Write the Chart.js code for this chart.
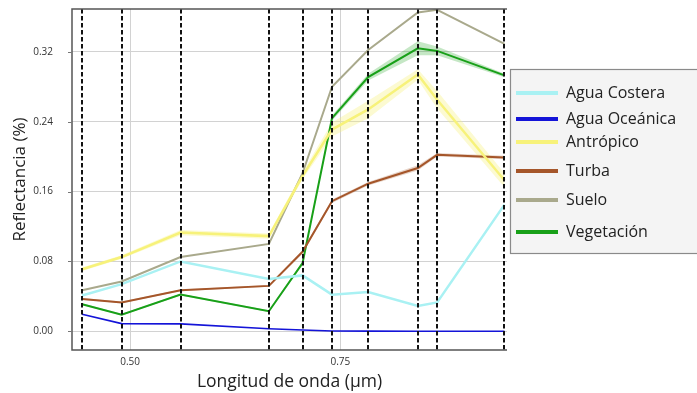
<!DOCTYPE html>
<html>
<head>
<meta charset="utf-8">
<script src="https://cdn.jsdelivr.net/npm/chart.js@4.4.0/dist/chart.umd.min.js"></script>
<style>
  html, body { margin: 0; padding: 0; background: #fff; }
</style>
</head>
<body>
<canvas id="grafico" width="697" height="393"></canvas>
<script>
// bandas Sentinel-2 (µm)
var bandas = [0.443, 0.49, 0.56, 0.665, 0.705, 0.74, 0.783, 0.842, 0.865, 0.945];
var ticksX = [0.50, 0.75];
var ticksY = [0.00, 0.08, 0.16, 0.24, 0.32];

var nombres = ['Agua Costera', 'Agua Oceánica', 'Antrópico', 'Turba', 'Suelo', 'Vegetación'];

var aguaCostera  = [0.041, 0.054, 0.080, 0.060, 0.064, 0.042, 0.045, 0.029, 0.033, 0.145];
var aguaOceanica = [0.0195, 0.0088, 0.0085, 0.003, 0.0015, 0.0003, 0.0002, 0.0001, 0.0001, 0.0001];
var antropico    = [0.071, 0.085, 0.113, 0.109, 0.178, 0.231, 0.254, 0.294, 0.265, 0.173];
var turba        = [0.037, 0.033, 0.047, 0.052, 0.091, 0.149, 0.169, 0.187, 0.202, 0.199];
var suelo        = [0.047, 0.057, 0.085, 0.100, 0.181, 0.280, 0.322, 0.365, 0.368, 0.329];
var vegetacion   = [0.031, 0.019, 0.042, 0.023, 0.078, 0.244, 0.291, 0.324, 0.321, 0.293];

// dispersión (sombreado)
var antropicoDesv  = [0.002, 0.002, 0.003, 0.003, 0.004, 0.008, 0.010, 0.006, 0.010, 0.008];
var turbaDesv      = [0.001, 0.001, 0.001, 0.001, 0.002, 0.002, 0.002, 0.003, 0.002, 0.002];
var vegetacionDesv = [0.001, 0.001, 0.001, 0.001, 0.002, 0.003, 0.004, 0.008, 0.005, 0.002];

var colores = ['#a9f1f3', '#1414d8', '#f7f27a', '#a5562a', '#a9a98c', '#18a018'];
var grosor  = [2.5, 1.6, 2.5, 2, 2, 2];

function puntos(valores) {
    return bandas.map(function (b, i) { return { x: b, y: valores[i] }; });
}

function banda(valores, desv, signo) {
    return bandas.map(function (b, i) { return { x: b, y: valores[i] + signo * desv[i] }; });
}

var series = [aguaCostera, aguaOceanica, antropico, turba, suelo, vegetacion];
var datasets = [];

series.forEach(function (s, i) {
    datasets.push({
        label: nombres[i],
        data: puntos(s),
        borderColor: colores[i],
        backgroundColor: colores[i],
        borderWidth: grosor[i],
        pointRadius: 0,
        tension: 0,
        fill: false,
        order: 1
    });
});

function agregarBanda(valores, desv, color) {
    datasets.push({ label: '_banda', data: banda(valores, desv, -1), borderWidth: 0, pointRadius: 0, fill: false, order: 5 });
    datasets.push({ label: '_banda', data: banda(valores, desv, 1), borderWidth: 0, pointRadius: 0, fill: '-1', backgroundColor: color, order: 5 });
}
agregarBanda(antropico, antropicoDesv, 'rgba(247, 242, 122, 0.35)');
agregarBanda(turba, turbaDesv, 'rgba(165, 86, 42, 0.25)');
agregarBanda(vegetacion, vegetacionDesv, 'rgba(24, 160, 24, 0.25)');

var lineasBandas = {
    id: 'lineasBandas',
    afterDatasetsDraw: function (chart) {
        var ctx = chart.ctx, sx = chart.scales.x, sy = chart.scales.y, a = chart.chartArea;
        ctx.save();
        ctx.strokeStyle = '#111';
        ctx.lineWidth = 2;
        ctx.setLineDash([4.5, 2.5]);
        bandas.forEach(function (b) {
            var px = Math.round(sx.getPixelForValue(b));
            ctx.beginPath();
            ctx.moveTo(px, a.top);
            ctx.lineTo(px, a.bottom);
            ctx.stroke();
        });
        ctx.setLineDash([]);
        // marco: arriba, izquierda, abajo
        ctx.strokeStyle = '#555';
        ctx.lineWidth = 1.5;
        ctx.beginPath();
        ctx.moveTo(a.right, a.top);
        ctx.lineTo(a.left, a.top);
        ctx.lineTo(a.left, a.bottom);
        ctx.lineTo(a.right, a.bottom);
        ctx.stroke();
        // marcas del eje y
        ctx.lineWidth = 1;
        ctx.strokeStyle = '#777';
        ticksY.forEach(function (v) {
            var py = Math.round(sy.getPixelForValue(v)) + 0.5;
            ctx.beginPath();
            ctx.moveTo(a.left - 4, py);
            ctx.lineTo(a.left, py);
            ctx.stroke();
        });
        ctx.restore();
    }
};

var leyenda = {
    id: 'leyenda',
    afterDraw: function (chart) {
        var ctx = chart.ctx;
        var posY = [93, 119, 142, 171, 200, 232];
        ctx.save();
        ctx.fillStyle = '#f4f4f4';
        ctx.fillRect(510, 69, 200, 184);
        ctx.strokeStyle = '#8a8a8a';
        ctx.lineWidth = 1.2;
        ctx.strokeRect(510.5, 69.5, 200, 184);
        ctx.font = '16px "Open Sans"';
        ctx.textBaseline = 'middle';
        var k = 0;
        chart.data.datasets.forEach(function (d) {
            if (d.label === '_banda') return;
            var y = posY[k++];
            ctx.strokeStyle = d.borderColor;
            ctx.lineWidth = 4;
            ctx.beginPath();
            ctx.moveTo(516, y);
            ctx.lineTo(558, y);
            ctx.stroke();
            ctx.fillStyle = '#222';
            ctx.fillText(d.label, 566, y);
        });
        ctx.restore();
    }
};

new Chart(document.getElementById('grafico').getContext('2d'), {
    type: 'line',
    data: { datasets: datasets },
    options: {
        responsive: false,
        animation: false,
        layout: { autoPadding: false, padding: { top: 9, right: 190, left: 0, bottom: 0 } },
        plugins: {
            legend: { display: false },
            tooltip: { enabled: false }
        },
        scales: {
            x: {
                type: 'linear',
                min: 0.431,
                max: 0.948,
                afterBuildTicks: function (s) { s.ticks = ticksX.map(function (v) { return { value: v }; }); },
                afterFit: function (s) { s.height = 43; },
                grid: { color: '#d2d2d2', lineWidth: 1, drawTicks: true, tickLength: 5, tickColor: 'rgba(0,0,0,0)' },
                border: { display: false },
                ticks: {
                    padding: 1,
                    color: '#333',
                    font: { family: 'Open Sans', size: 10 },
                    callback: function (v) { return v.toFixed(2); }
                },
                title: {
                    display: true,
                    text: 'Longitud de onda (µm)',
                    color: '#222',
                    font: { family: 'Open Sans', size: 17.5 },
                    padding: 0
                }
            },
            y: {
                min: -0.0214,
                max: 0.369,
                afterBuildTicks: function (s) { s.ticks = ticksY.map(function (v) { return { value: v }; }); },
                afterFit: function (s) { s.width = 72; },
                grid: { color: '#d2d2d2', lineWidth: 1, drawTicks: true, tickLength: 19, tickColor: 'rgba(0,0,0,0)' },
                border: { display: false },
                ticks: {
                    padding: 0,
                    color: '#333',
                    font: { family: 'Open Sans', size: 10 },
                    callback: function (v) { return v.toFixed(2); }
                },
                title: {
                    display: true,
                    text: 'Reflectancia (%)',
                    color: '#222',
                    font: { family: 'Open Sans', size: 17 },
                    padding: { top: 10, bottom: 0 }
                }
            }
        }
    },
    plugins: [lineasBandas, leyenda]
});
</script>
</body>
</html>
